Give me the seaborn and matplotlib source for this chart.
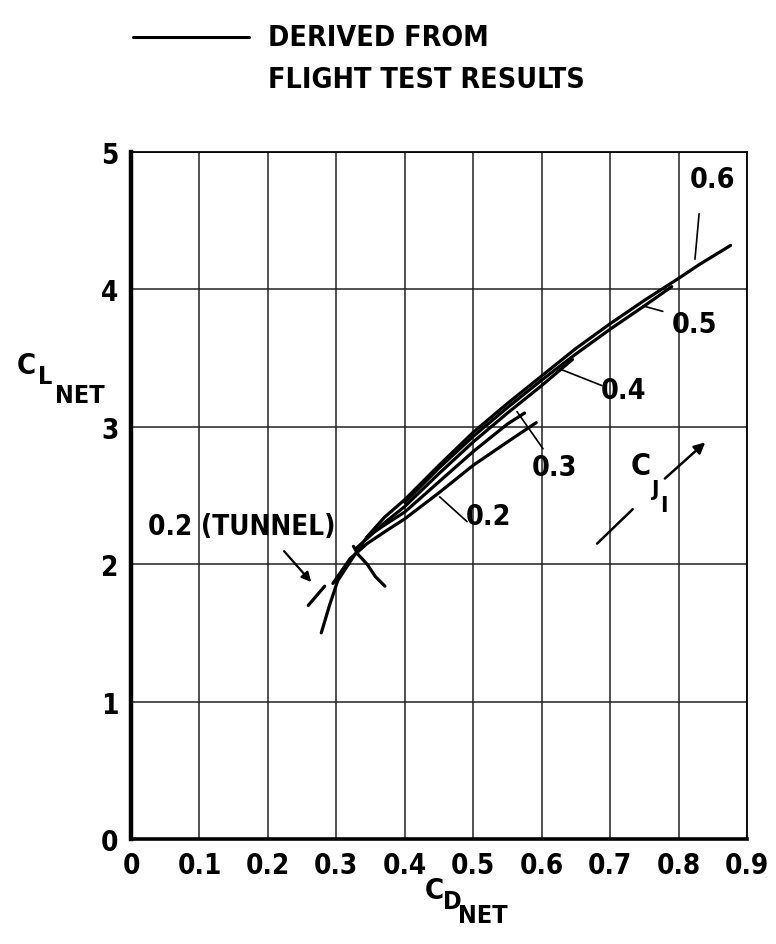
import numpy as np
import pandas as pd
import matplotlib
matplotlib.use("Agg")
import matplotlib.pyplot as plt
import seaborn as sns

# ---------------- data ----------------
cd_06 = [0.278, 0.290, 0.302, 0.323, 0.345, 0.370, 0.400, 0.450, 0.500, 0.550, 0.600, 0.650, 0.700, 0.750, 0.800, 0.830, 0.876]
cl_06 = [1.50, 1.70, 1.88, 2.04, 2.20, 2.34, 2.47, 2.72, 2.96, 3.17, 3.37, 3.57, 3.75, 3.92, 4.08, 4.18, 4.32]

cd_05 = [0.400, 0.450, 0.500, 0.550, 0.600, 0.650, 0.700, 0.750, 0.790]
cl_05 = [2.45, 2.70, 2.93, 3.14, 3.34, 3.53, 3.71, 3.88, 4.02]

cd_04 = [0.330, 0.370, 0.400, 0.450, 0.500, 0.550, 0.600, 0.645]
cl_04 = [2.12, 2.30, 2.42, 2.66, 2.89, 3.10, 3.30, 3.49]

cd_03 = [0.345, 0.375, 0.400, 0.450, 0.500, 0.550, 0.575]
cl_03 = [2.20, 2.30, 2.38, 2.60, 2.82, 3.02, 3.10]

cd_02 = [0.295, 0.320, 0.345, 0.375, 0.400, 0.450, 0.500, 0.550, 0.592]
cl_02 = [1.86, 2.04, 2.15, 2.25, 2.33, 2.52, 2.72, 2.89, 3.03]

cd_hook = [0.325, 0.332, 0.345, 0.357, 0.371]
cl_hook = [2.13, 2.07, 2.00, 1.91, 1.84]

cd_tunnel = [0.259, 0.283]
cl_tunnel = [1.70, 1.84]

curve_labels = ["0.2", "0.3", "0.4", "0.5", "0.6"]
label_pos_cd = [0.522, 0.618, 0.719, 0.823, 0.849]
label_pos_cl = [2.35, 2.71, 3.27, 3.75, 4.80]
leader_from_cd = [0.491, 0.602, 0.688, 0.777, 0.830]
leader_from_cl = [2.31, 2.84, 3.30, 3.84, 4.55]
leader_to_cd = [0.451, 0.564, 0.627, 0.748, 0.824]
leader_to_cl = [2.49, 3.11, 3.42, 3.88, 4.22]

x_ticks = [0, 0.1, 0.2, 0.3, 0.4, 0.5, 0.6, 0.7, 0.8, 0.9]
x_tick_labels = ["0", "0.1", "0.2", "0.3", "0.4", "0.5", "0.6", "0.7", "0.8", "0.9"]
y_ticks = [0, 1, 2, 3, 4, 5]
y_tick_labels = ["0", "1", "2", "3", "4", "5"]

# ---------------- style ----------------
sns.set_theme(style="white")
plt.rcParams["font.family"] = ["DejaVu Sans"]
plt.rcParams["font.stretch"] = "condensed"
plt.rcParams["font.weight"] = "bold"
for k in ["text.color", "axes.labelcolor", "xtick.color", "ytick.color"]:
    plt.rcParams[k] = "black"

fig = plt.figure(figsize=(7.76, 9.45), dpi=100)
ax = fig.add_axes([131 / 776, 1 - 840 / 945, 616 / 776, 687 / 945])

frames = []
for name, xs, ys in [("0.6", cd_06, cl_06), ("0.5", cd_05, cl_05), ("0.4", cd_04, cl_04),
                     ("0.3", cd_03, cl_03), ("0.2", cd_02, cl_02), ("hook", cd_hook, cl_hook),
                     ("tunnel", cd_tunnel, cl_tunnel)]:
    frames.append(pd.DataFrame({"cd": xs, "cl": ys, "curve": name}))
df = pd.concat(frames, ignore_index=True)

sns.lineplot(data=df, x="cd", y="cl", units="curve", estimator=None, sort=False,
             color="black", lw=2.3, ax=ax, legend=False)

ax.set_xlim(0, 0.9)
ax.set_ylim(0, 5)
ax.set_xticks(x_ticks)
ax.set_xticklabels(x_tick_labels)
ax.set_yticks(y_ticks)
ax.set_yticklabels(y_tick_labels)
ax.tick_params(length=0, labelsize=20, pad=9)
ax.grid(True, color="#222222", lw=1.1)
ax.set_xlabel("")
ax.set_ylabel("")
for s in ["top", "right"]:
    ax.spines[s].set_linewidth(1.3)
    ax.spines[s].set_color("black")
ax.spines["left"].set_linewidth(3.2)
ax.spines["bottom"].set_linewidth(2.6)
ax.spines["left"].set_color("black")
ax.spines["bottom"].set_color("black")

# curve labels and leaders
for lab, tx, ty, fx, fy, ex, ey in zip(curve_labels, label_pos_cd, label_pos_cl,
                                       leader_from_cd, leader_from_cl, leader_to_cd, leader_to_cl):
    ax.text(tx, ty, lab, ha="center", va="center", fontsize=20.5, fontweight="bold")
    ax.plot([fx, ex], [fy, ey], color="black", lw=1.2)

# tunnel label and arrow
ax.text(0.162, 2.28, "0.2 (TUNNEL)", ha="center", va="center", fontsize=20, fontweight="bold")
ax.annotate("", xy=(0.266, 1.855), xytext=(0.221, 2.11),
            arrowprops=dict(arrowstyle="-|>", color="black", lw=1.6, mutation_scale=14))

# Cj arrow
ax.plot([0.681, 0.733], [2.15, 2.40], color="black", lw=1.8)
ax.annotate("", xy=(0.842, 2.90), xytext=(0.777, 2.61),
            arrowprops=dict(arrowstyle="-|>", color="black", lw=1.8, mutation_scale=16))
ax.text(0.745, 2.72, "C", ha="center", va="center", fontsize=22, fontweight="bold")
ax.text(0.765, 2.55, "J", ha="center", va="center", fontsize=16, fontweight="bold")
ax.text(0.779, 2.43, "I", ha="center", va="center", fontsize=16, fontweight="bold")

# axis labels (manual sub/subscripts)
fig.text(434 / 776, 1 - 891 / 945, "C", ha="center", va="center", fontsize=21, fontweight="bold")
fig.text(452 / 776, 1 - 902 / 945, "D", ha="center", va="center", fontsize=18, fontweight="bold")
fig.text(458 / 776, 1 - 916 / 945, "NET", ha="left", va="center", fontsize=18, fontweight="bold")

fig.text(26 / 776, 1 - 366 / 945, "C", ha="center", va="center", fontsize=21, fontweight="bold")
fig.text(45 / 776, 1 - 377 / 945, "L", ha="center", va="center", fontsize=18, fontweight="bold")
fig.text(55 / 776, 1 - 396 / 945, "NET", ha="left", va="center", fontsize=18, fontweight="bold")

# legend at top
fig.add_artist(plt.Line2D([133 / 776, 249 / 776], [1 - 38 / 945, 1 - 38 / 945], color="black", lw=2.2))
fig.text(268 / 776, 1 - 38 / 945, "DERIVED FROM", ha="left", va="center", fontsize=20.5, fontweight="bold")
fig.text(268 / 776, 1 - 80 / 945, "FLIGHT TEST RESULTS", ha="left", va="center", fontsize=20.5, fontweight="bold")

fig.savefig("out.png", dpi=100, facecolor="white")
